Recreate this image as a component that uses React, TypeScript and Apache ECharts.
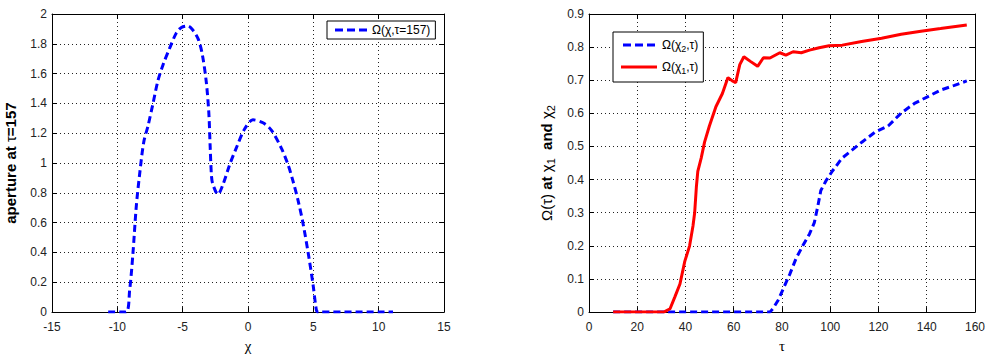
import React, { useEffect, useRef } from "react";
import * as echarts from "echarts";

// Left panel: aperture along chi at tau = 157
const chiValues = [-10.7, -9.35, -9.06, -8.8, -8.55, -8.3, -7.98, -7.65, -7.27, -6.9, -6.5, -6.0, -5.5, -5.1, -4.6, -4.2, -3.8, -3.5, -3.2, -3.0, -2.9, -2.8, -2.7, -2.3, -1.9, -1.4, -0.9, -0.25, 0.38, 1.15, 1.8, 2.55, 3.06, 3.44, 3.83, 4.2, 4.6, 4.97, 5.23, 5.35, 11.1];
const apertureValues = [0, 0, 0.145, 0.4, 0.71, 0.92, 1.14, 1.25, 1.4, 1.55, 1.66, 1.77, 1.87, 1.91, 1.92, 1.89, 1.83, 1.73, 1.55, 1.34, 1.12, 0.92, 0.86, 0.79, 0.86, 0.99, 1.1, 1.23, 1.29, 1.27, 1.22, 1.1, 0.99, 0.88, 0.75, 0.6, 0.4, 0.19, 0.015, 0, 0];

// Right panel: Omega(tau) at chi1 (red) and chi2 (blue)
const tauChi1 = [10, 31, 33.6, 35.6, 37.7, 39.7, 41.7, 43.1, 43.8, 44.5, 45.1, 46.5, 47.9, 49.9, 52.6, 55.3, 57.6, 59.4, 60.8, 62.5, 64.2, 66.9, 69.9, 72.3, 75.0, 79.1, 81.6, 84.6, 88.0, 91.4, 95.4, 99.5, 105, 113, 121.3, 129.4, 137.6, 145.7, 156.6];
const omegaChi1 = [0, 0, 0.01, 0.046, 0.085, 0.153, 0.2, 0.26, 0.3, 0.377, 0.425, 0.465, 0.513, 0.562, 0.62, 0.66, 0.708, 0.698, 0.693, 0.747, 0.771, 0.757, 0.742, 0.768, 0.767, 0.783, 0.776, 0.786, 0.783, 0.791, 0.798, 0.804, 0.806, 0.817, 0.827, 0.839, 0.848, 0.856, 0.867];
const tauChi2 = [10, 75, 76.4, 78.4, 80.5, 83.2, 85.9, 88.6, 91.4, 93.4, 94.8, 96.1, 98.2, 100.9, 104.9, 109, 113.1, 118.5, 124, 129.4, 134.9, 140.3, 145.7, 151.2, 156.6];
const omegaChi2 = [0, 0, 0.012, 0.036, 0.07, 0.114, 0.163, 0.2, 0.236, 0.27, 0.318, 0.367, 0.396, 0.426, 0.465, 0.489, 0.513, 0.543, 0.562, 0.601, 0.63, 0.65, 0.67, 0.684, 0.698];

const leftXTicks = { min: -15, max: 15, interval: 5 };
const leftYTicks = { min: 0, max: 2, interval: 0.2 };
const rightXTicks = { min: 0, max: 160, interval: 20 };
const rightYTicks = { min: 0, max: 0.9, interval: 0.1 };

const seriesNames = ["Ω(χ,τ=157)", "Ω(χ2,τ)", "Ω(χ1,τ)"];

const FONT = "Liberation Sans, Arial, sans-serif";
const BLUE = "#0000ff";
const RED = "#ff0000";
const DASH = [7, 4];
const dashIcon = "path://M0,0h8v3h-8z M12,0h8v3h-8z M24,0h8v3h-8z";

const zip = (xs: number[], ys: number[]) => xs.map((x, i) => [x, ys[i]]);

export default function App() {
  const ref = useRef<HTMLDivElement>(null);
  useEffect(() => {
    document.body.style.margin = "0";
    if (!ref.current) return;
    const chart = echarts.init(ref.current, null, { renderer: "svg" });

    const axisLine = { show: true, onZero: false, lineStyle: { color: "#000", width: 1 } };
    const tick = { show: true, inside: true, length: 5, lineStyle: { color: "#000" } };
    const split = { show: true, lineStyle: { color: "#222", type: [1, 3], width: 1 } };
    const label = { fontFamily: FONT, fontSize: 12, color: "#222" };

    const mkX = (grid: number, t: any, name: string) => [
      {
        type: "value", gridIndex: grid, position: "bottom", ...t,
        axisLine, axisTick: tick, splitLine: split,
        axisLabel: { ...label, margin: 9, alignMaxLabel: "center", alignMinLabel: "center" },
        name, nameLocation: "middle", nameGap: 24,
        nameTextStyle: { fontFamily: "Liberation Serif, serif", fontSize: 15, fontWeight: "normal", color: "#000" },
      },
      {
        type: "value", gridIndex: grid, position: "top", ...t,
        axisLine, axisTick: tick, splitLine: { show: false }, axisLabel: { show: false },
      },
    ];
    const mkY = (grid: number, t: any, name: string, rich: any, gap: number) => [
      {
        type: "value", gridIndex: grid, position: "left", ...t,
        axisLine, axisTick: tick, splitLine: split,
        axisLabel: { ...label, margin: 5 },
        name, nameLocation: "middle", nameRotate: 90, nameGap: gap,
        nameTextStyle: { fontFamily: FONT, fontSize: 15, color: "#000", rich },
      },
      {
        type: "value", gridIndex: grid, position: "right", ...t,
        axisLine, axisTick: tick, splitLine: { show: false }, axisLabel: { show: false },
      },
    ];

    const nameRich = {
      b: { fontFamily: FONT, fontSize: 15, fontWeight: "bold", color: "#000", lineHeight: 20 },
      n: { fontFamily: FONT, fontSize: 15, color: "#000", lineHeight: 20 },
      s: { fontFamily: FONT, fontSize: 11, color: "#000", lineHeight: 11, verticalAlign: "bottom" },
    };

    const legendRich = {
      n: { fontFamily: FONT, fontSize: 12, color: "#000", lineHeight: 16 },
      s: { fontFamily: FONT, fontSize: 9, color: "#000", lineHeight: 9, verticalAlign: "bottom" },
    };
    const legendFmt = (name: string) => {
      const m = name.match(/^Ω\(χ(\d),τ\)$/);
      if (m) return `{n|Ω(χ}{s|${m[1]}}{n|,τ)}`;
      return `{n|${name}}`;
    };

    const xs = [
      ...mkX(0, leftXTicks, "χ"),
      ...mkX(1, rightXTicks, "τ"),
    ];
    const ys = [
      ...mkY(0, leftYTicks, "{b|aperture at }{n|τ}{b|=157}", nameRich, 32),
      ...mkY(1, rightYTicks, "{n|Ω(τ) }{b|at }{n|χ}{s|1}{b|  and }{n|χ}{s|2}", nameRich, 33),
    ];

    chart.setOption({
      animation: false,
      backgroundColor: "#fff",
      grid: [
        { left: 52, top: 14, width: 392, height: 308, show: false },
        { left: 589, top: 14, width: 392, height: 308, show: false },
      ],
      xAxis: xs,
      yAxis: ys,
      legend: [
        {
          data: [{ name: seriesNames[0], icon: dashIcon }],
          left: 327, top: 21, orient: "vertical",
          borderColor: "#000", borderWidth: 1, backgroundColor: "#fff",
          padding: [3, 5, 3, 8], itemWidth: 32, itemHeight: 3, itemGap: 2,
          textStyle: { fontFamily: FONT, fontSize: 12, color: "#000", rich: legendRich },
          formatter: legendFmt,
        },
        {
          data: [
            { name: seriesNames[1], icon: dashIcon },
            { name: seriesNames[2], icon: "rect" },
          ],
          left: 613, top: 32, orient: "vertical",
          borderColor: "#000", borderWidth: 1, backgroundColor: "#fff",
          padding: [7, 5, 7, 8], itemWidth: 36, itemHeight: 3, itemGap: 8,
          textStyle: { fontFamily: FONT, fontSize: 12, color: "#000", rich: legendRich },
          formatter: legendFmt,
        },
      ],
      series: [
        {
          name: seriesNames[0], type: "line", xAxisIndex: 0, yAxisIndex: 0,
          data: zip(chiValues, apertureValues), showSymbol: false, smooth: 0.3,
          lineStyle: { color: BLUE, width: 3, type: DASH }, itemStyle: { color: BLUE },
        },
        {
          name: seriesNames[1], type: "line", xAxisIndex: 2, yAxisIndex: 2,
          data: zip(tauChi2, omegaChi2), showSymbol: false,
          lineStyle: { color: BLUE, width: 3, type: DASH }, itemStyle: { color: BLUE },
        },
        {
          name: seriesNames[2], type: "line", xAxisIndex: 2, yAxisIndex: 2,
          data: zip(tauChi1, omegaChi1), showSymbol: false,
          lineStyle: { color: RED, width: 3 }, itemStyle: { color: RED },
        },
      ],
    });
    return () => chart.dispose();
  }, []);
  return <div ref={ref} style={{ width: 988, height: 358 }} />;
}
